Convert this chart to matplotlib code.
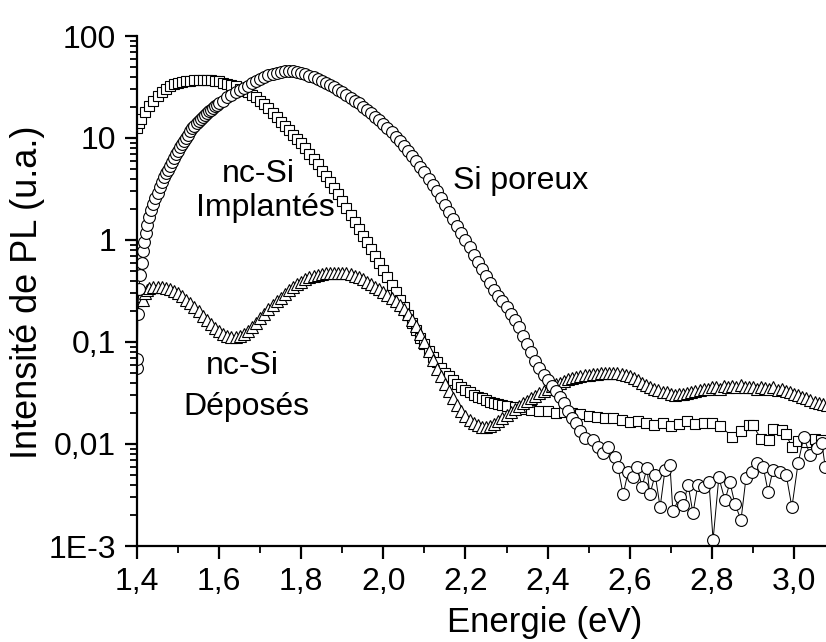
import matplotlib
matplotlib.use("Agg")
import matplotlib.pyplot as plt
from matplotlib.ticker import FixedLocator, NullFormatter, LogLocator

plt.rcParams['font.family'] = ['Liberation Sans', 'DejaVu Sans']

# ---- data: nc-Si Implantés (squares) ----
E_impl = [1.400, 1.405, 1.410, 1.420, 1.430, 1.440, 1.450, 1.460, 1.470, 1.480,
          1.490, 1.500, 1.510, 1.520, 1.530, 1.540, 1.550, 1.560, 1.570, 1.580,
          1.590, 1.600, 1.610, 1.620, 1.630, 1.640, 1.650, 1.660, 1.670, 1.680,
          1.690, 1.700, 1.710, 1.720, 1.730, 1.740, 1.750, 1.760, 1.770, 1.780,
          1.790, 1.800, 1.810, 1.820, 1.830, 1.840, 1.850, 1.860, 1.870, 1.880,
          1.890, 1.900, 1.910, 1.920, 1.930, 1.940, 1.950, 1.960, 1.970, 1.980,
          1.990, 2.000, 2.010, 2.020, 2.030, 2.040, 2.050, 2.060, 2.070, 2.080,
          2.090, 2.100, 2.110, 2.120, 2.130, 2.140, 2.150, 2.160, 2.170, 2.180,
          2.190, 2.200, 2.210, 2.220, 2.230, 2.240, 2.250, 2.260, 2.270, 2.280,
          2.290, 2.300, 2.320, 2.340, 2.360, 2.380, 2.400, 2.420, 2.440, 2.460,
          2.480, 2.500, 2.520, 2.540, 2.560, 2.580, 2.600, 2.620, 2.640, 2.660,
          2.680, 2.700, 2.720, 2.740, 2.760, 2.780, 2.800, 2.820, 2.850, 2.870,
          2.890, 2.900, 2.920, 2.940, 2.950, 2.970, 2.980, 2.995, 3.010, 3.030,
          3.050, 3.065]
I_impl = [12.5, 14.0, 15.5, 18.0, 20.5, 23.0, 26.0, 28.0, 30.0, 32.0,
          33.5, 34.5, 35.5, 36.0, 36.5, 37.0, 37.0, 37.0, 37.0, 37.0,
          36.5, 36.0, 35.0, 34.0, 33.0, 32.0, 30.5, 29.0, 28.0, 26.5,
          25.0, 23.0, 21.5, 19.5, 17.5, 16.0, 14.5, 13.0, 12.0, 10.8,
          9.8, 8.9, 7.9, 7.0, 6.2, 5.5, 4.8, 4.2, 3.7, 3.2,
          2.8, 2.4, 2.05, 1.75, 1.5, 1.28, 1.1, 0.95, 0.82, 0.70,
          0.60, 0.51, 0.43, 0.36, 0.31, 0.26, 0.22, 0.185, 0.155, 0.13,
          0.11, 0.095, 0.082, 0.072, 0.063, 0.056, 0.050, 0.046, 0.042, 0.039,
          0.036, 0.034, 0.032, 0.030, 0.029, 0.028, 0.027, 0.026, 0.025, 0.0245,
          0.024, 0.0235, 0.023, 0.022, 0.0215, 0.021, 0.021, 0.020, 0.0205, 0.020,
          0.0195, 0.019, 0.0185, 0.018, 0.0178, 0.017, 0.0165, 0.0168, 0.016, 0.0155,
          0.0162, 0.015, 0.0158, 0.0167, 0.0158, 0.0162, 0.016, 0.0150, 0.0118, 0.0135,
          0.0155, 0.0152, 0.0112, 0.0110, 0.0140, 0.0138, 0.0125, 0.0094, 0.0108, 0.0105,
          0.0112, 0.0110]

# ---- data: Si poreux (circles) ----
E_por = [1.400, 1.401, 1.402, 1.404, 1.408, 1.411, 1.414, 1.417, 1.421, 1.425,
         1.430, 1.435, 1.440, 1.445, 1.450, 1.455, 1.460, 1.465, 1.470, 1.475,
         1.480, 1.485, 1.490, 1.495, 1.500, 1.505, 1.510, 1.515, 1.520, 1.525,
         1.530, 1.535, 1.540, 1.545, 1.550, 1.555, 1.560, 1.565, 1.570, 1.575,
         1.580, 1.585, 1.590, 1.595, 1.600, 1.610, 1.620, 1.630, 1.640, 1.650,
         1.660, 1.670, 1.680, 1.690, 1.700, 1.710, 1.720, 1.730, 1.740, 1.750,
         1.760, 1.770, 1.780, 1.790, 1.800, 1.810, 1.820, 1.830, 1.840, 1.850,
         1.860, 1.870, 1.880, 1.890, 1.900, 1.910, 1.920, 1.930, 1.940, 1.950,
         1.960, 1.970, 1.980, 1.990, 2.000, 2.010, 2.020, 2.030, 2.040, 2.050,
         2.060, 2.070, 2.080, 2.090, 2.100, 2.110, 2.120, 2.130, 2.140, 2.150,
         2.160, 2.170, 2.180, 2.190, 2.200, 2.210, 2.220, 2.230, 2.240, 2.250,
         2.260, 2.270, 2.280, 2.290, 2.300, 2.310, 2.320, 2.330, 2.340, 2.350,
         2.360, 2.370, 2.380, 2.390, 2.400, 2.410, 2.420, 2.430, 2.440, 2.450,
         2.460, 2.470, 2.480, 2.491, 2.511, 2.523, 2.535, 2.547, 2.564, 2.571,
         2.584, 2.596, 2.608, 2.618, 2.630, 2.642, 2.649, 2.662, 2.674, 2.686,
         2.698, 2.705, 2.722, 2.730, 2.742, 2.754, 2.766, 2.781, 2.793, 2.803,
         2.817, 2.832, 2.844, 2.856, 2.871, 2.883, 2.898, 2.910, 2.925, 2.937,
         2.949, 2.966, 2.981, 2.995, 3.010, 3.024, 3.039, 3.056, 3.068, 3.076]
I_por = [0.055, 0.068, 0.19, 0.33, 0.45, 0.60, 0.78, 0.95, 1.17, 1.4,
         1.68, 1.95, 2.25, 2.6, 2.9, 3.3, 3.7, 4.1, 4.5, 4.9,
         5.3, 5.8, 6.4, 7.0, 7.5, 8.1, 8.7, 9.3, 10.0, 10.8,
         11.6, 12.4, 13.2, 14.0, 14.7, 15.4, 16.1, 16.9, 17.6, 18.3,
         19.0, 19.7, 20.4, 21.1, 21.8, 23.3, 25.0, 26.6, 28.2, 29.8,
         31.2, 32.6, 34.4, 36.2, 38.0, 39.5, 41.0, 42.3, 43.4, 44.3,
         44.9, 45.1, 44.9, 44.2, 43.2, 42.0, 40.8, 39.5, 38.1, 36.6,
         34.9, 33.2, 31.5, 29.8, 28.1, 26.5, 24.9, 23.3, 21.8, 20.3,
         18.9, 17.5, 16.2, 14.9, 13.7, 12.5, 11.4, 10.3, 9.3, 8.4,
         7.5, 6.7, 5.9, 5.2, 4.6, 4.0, 3.5, 3.0, 2.6, 2.2,
         1.9, 1.6, 1.38, 1.17, 1.0, 0.85, 0.72, 0.61, 0.52, 0.44,
         0.38, 0.32, 0.28, 0.25, 0.22, 0.19, 0.165, 0.14, 0.115, 0.095,
         0.079, 0.065, 0.056, 0.048, 0.042, 0.037, 0.033, 0.029, 0.025, 0.021,
         0.018, 0.016, 0.0135, 0.0115, 0.0109, 0.0094, 0.0082, 0.0094, 0.0075, 0.0060,
         0.0032, 0.0053, 0.0047, 0.0060, 0.0038, 0.0058, 0.0032, 0.0050, 0.0024, 0.0056,
         0.0062, 0.0022, 0.0030, 0.0025, 0.0040, 0.0021, 0.0040, 0.0038, 0.0042, 0.00115,
         0.0047, 0.0028, 0.0042, 0.0026, 0.0018, 0.0046, 0.0053, 0.0065, 0.0060, 0.0034,
         0.0056, 0.0053, 0.0050, 0.0024, 0.0065, 0.0117, 0.0078, 0.0091, 0.0102, 0.0060]

# ---- data: nc-Si Déposés (triangles) ----
E_dep = [1.400, 1.402, 1.405, 1.410, 1.415, 1.420, 1.425, 1.430, 1.440, 1.450,
         1.460, 1.470, 1.480, 1.490, 1.500, 1.510, 1.520, 1.530, 1.540, 1.550,
         1.560, 1.570, 1.580, 1.590, 1.600, 1.610, 1.620, 1.630, 1.640, 1.650,
         1.660, 1.670, 1.680, 1.690, 1.700, 1.710, 1.720, 1.730, 1.740, 1.750,
         1.760, 1.770, 1.780, 1.790, 1.800, 1.810, 1.820, 1.830, 1.840, 1.850,
         1.860, 1.870, 1.880, 1.890, 1.900, 1.910, 1.920, 1.930, 1.940, 1.950,
         1.960, 1.970, 1.980, 1.990, 2.000, 2.010, 2.020, 2.030, 2.040, 2.050,
         2.060, 2.070, 2.080, 2.090, 2.100, 2.110, 2.120, 2.130, 2.140, 2.150,
         2.160, 2.170, 2.180, 2.190, 2.200, 2.210, 2.220, 2.230, 2.240, 2.250,
         2.260, 2.270, 2.280, 2.290, 2.300, 2.310, 2.320, 2.330, 2.340, 2.350,
         2.360, 2.370, 2.380, 2.390, 2.400, 2.410, 2.420, 2.430, 2.440, 2.450,
         2.460, 2.470, 2.480, 2.490, 2.500, 2.510, 2.520, 2.530, 2.540, 2.550,
         2.560, 2.570, 2.580, 2.590, 2.600, 2.610, 2.620, 2.630, 2.640, 2.650,
         2.660, 2.670, 2.680, 2.690, 2.700, 2.710, 2.720, 2.730, 2.740, 2.750,
         2.760, 2.770, 2.780, 2.790, 2.800, 2.810, 2.820, 2.830, 2.840, 2.850,
         2.860, 2.870, 2.880, 2.890, 2.900, 2.910, 2.920, 2.930, 2.940, 2.950,
         2.960, 2.970, 2.980, 2.990, 3.000, 3.010, 3.020, 3.030, 3.040, 3.050,
         3.060, 3.070, 3.080]
I_dep = [0.20, 0.26, 0.30, 0.28, 0.26, 0.30, 0.32, 0.34, 0.35, 0.35,
         0.345, 0.34, 0.33, 0.315, 0.30, 0.28, 0.26, 0.24, 0.22, 0.20,
         0.18, 0.165, 0.15, 0.138, 0.128, 0.12, 0.115, 0.112, 0.112, 0.114,
         0.12, 0.128, 0.14, 0.155, 0.17, 0.19, 0.21, 0.23, 0.25, 0.27,
         0.295, 0.32, 0.345, 0.37, 0.39, 0.41, 0.43, 0.445, 0.455, 0.465,
         0.47, 0.475, 0.478, 0.48, 0.478, 0.472, 0.462, 0.448, 0.43, 0.41,
         0.39, 0.37, 0.35, 0.33, 0.31, 0.29, 0.27, 0.25, 0.23, 0.21,
         0.19, 0.165, 0.145, 0.12, 0.10, 0.082, 0.066, 0.054, 0.046, 0.039,
         0.033, 0.028, 0.024, 0.021, 0.019, 0.0172, 0.016, 0.0152, 0.0148, 0.0148,
         0.015, 0.0158, 0.0168, 0.018, 0.0193, 0.0207, 0.022, 0.0235, 0.025, 0.0265,
         0.028, 0.0298, 0.0315, 0.0333, 0.035, 0.0368, 0.0385, 0.040, 0.0415, 0.043,
         0.0442, 0.0455, 0.0465, 0.0473, 0.048, 0.0487, 0.049, 0.0495, 0.050, 0.0502,
         0.050, 0.0498, 0.049, 0.048, 0.046, 0.044, 0.042, 0.040, 0.038, 0.036,
         0.0345, 0.0335, 0.0325, 0.032, 0.031, 0.0305, 0.031, 0.031, 0.0315, 0.032,
         0.033, 0.034, 0.035, 0.035, 0.036, 0.0365, 0.035, 0.037, 0.036, 0.037,
         0.036, 0.0375, 0.036, 0.0365, 0.036, 0.035, 0.0365, 0.0355, 0.035, 0.036,
         0.034, 0.0345, 0.033, 0.032, 0.031, 0.030, 0.029, 0.028, 0.027, 0.026,
         0.025, 0.0245, 0.024]

x_ticks = [1.4, 1.6, 1.8, 2.0, 2.2, 2.4, 2.6, 2.8, 3.0]
x_ticklabels = ["1,4", "1,6", "1,8", "2,0", "2,2", "2,4", "2,6", "2,8", "3,0"]
y_ticks = [1e-3, 1e-2, 1e-1, 1, 10, 100]
y_ticklabels = ["1E-3", "0,01", "0,1", "1", "10", "100"]

W, H = 826, 642
fig = plt.figure(figsize=(W / 100, H / 100), dpi=100)
ax = fig.add_axes([137 / W, (H - 546) / H, 1 - 137 / W, (546 - 36) / H])
ax.set_yscale('log')

mk = dict(markerfacecolor='white', markeredgecolor='black', markeredgewidth=0.8,
          color='black', linewidth=0.7)
ax.plot(E_impl, I_impl, marker='s', markersize=7.5, **mk)
ax.plot(E_dep, I_dep, marker='^', markersize=8.5, **mk)
ax.plot(E_por, I_por, marker='o', markersize=8.5, **mk)

ax.set_xlim(1.4, 3.078)
ax.set_ylim(1e-3, 100)
ax.spines['top'].set_visible(False)
ax.spines['right'].set_visible(False)
for s in ('left', 'bottom'):
    ax.spines[s].set_linewidth(1.6)

ax.set_xticks(x_ticks)
ax.set_xticklabels(x_ticklabels)
ax.xaxis.set_minor_locator(FixedLocator([1.5, 1.7, 1.9, 2.1, 2.3, 2.5, 2.7, 2.9]))
ax.set_yticks(y_ticks)
ax.set_yticklabels(y_ticklabels)
ax.yaxis.set_minor_locator(LogLocator(base=10, subs=range(2, 10)))
ax.yaxis.set_minor_formatter(NullFormatter())
ax.tick_params(which='major', direction='out', length=9, width=1.6, labelsize=23, pad=6)
ax.tick_params(which='minor', direction='out', length=5, width=1.3)

fig.text(28 / W, 1 - 292 / H, "Intensité de PL (u.a.)", rotation=90, ha='center', va='center', fontsize=26)
fig.text(545 / W, 1 - 632 / H, "Energie (eV)", ha='center', va='baseline', fontsize=25)

def lab(x, y, s):
    fig.text(x / W, 1 - y / H, s, ha='center', va='baseline', fontsize=23)

lab(258, 182, "nc-Si")
lab(265, 216, "Implantés")
lab(521, 189, "Si poreux")
lab(242, 374, "nc-Si")
lab(246, 415, "Déposés")

fig.savefig("out.png", dpi=100)
